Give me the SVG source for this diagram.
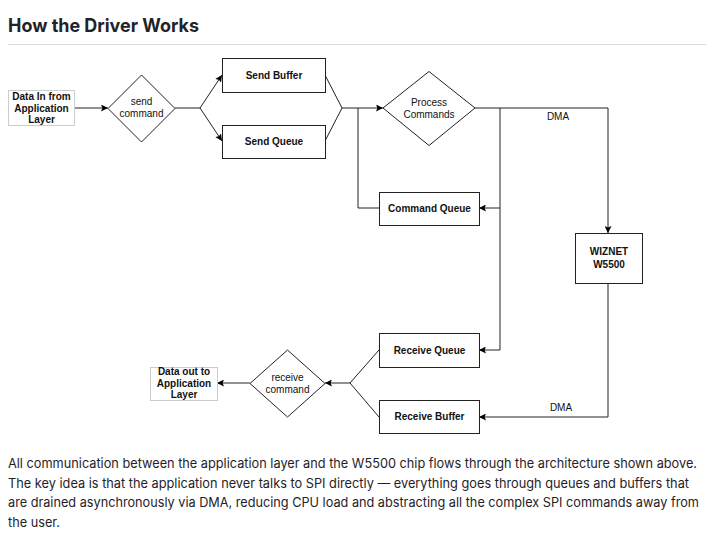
<svg xmlns="http://www.w3.org/2000/svg" width="720" height="540" viewBox="0 0 720 540">
<style>
.t{font-family:Inter,"Liberation Sans",sans-serif;fill:#1f2328}
.d{font-family:"Liberation Sans",Arial,sans-serif;font-size:10px;fill:#111;text-anchor:middle}
.b{font-weight:bold}
.box{fill:#fff;stroke:#222;stroke-width:1}
.lbox{fill:#fff;stroke:#ccc;stroke-width:1}
.ln{fill:none;stroke:#222;stroke-width:1}
.ar{fill:none;stroke:#222;stroke-width:1;marker-end:url(#ah)}
</style>
<defs>
<marker id="ah" viewBox="0 0 10 10" refX="10" refY="5" markerWidth="7" markerHeight="7" markerUnits="userSpaceOnUse" orient="auto">
<path d="M0,0 L10,5 L0,10 L2,5 Z" fill="#000"/>
</marker>
</defs>
<rect x="0" y="0" width="720" height="540" fill="#fff"/>
<text class="t b" x="8" y="32" font-size="18.5" textLength="191" lengthAdjust="spacingAndGlyphs">How the Driver Works</text>
<line x1="8" y1="44.5" x2="706" y2="44.5" stroke="#d8dee4" stroke-width="1"/>

<g id="connectors">
<path class="ar" d="M75,108 H108"/>
<path class="ln" d="M175,108 H200"/>
<path class="ar" d="M200,108 L222,75"/>
<path class="ar" d="M200,108 L222,141"/>
<path class="ln" d="M325,75 L342,108 L325,141"/>
<path class="ar" d="M342,108 H383"/>
<path class="ln" d="M379,208 H358 V108"/>
<path class="ar" d="M475,108 H608 V233"/>
<path class="ln" d="M500,108 V350"/>
<path class="ar" d="M500,208 H479"/>
<path class="ar" d="M500,350 H479"/>
<path class="ar" d="M608,283 V417 H479"/>
<path class="ln" d="M379,350 L350,383 L379,417"/>
<path class="ar" d="M350,383 H325"/>
<path class="ar" d="M250,383 H217"/>
<text class="d" x="558" y="120">DMA</text>
<text class="d" x="561" y="411">DMA</text>
</g>

<g id="data-in">
<rect class="lbox" x="8.5" y="90.5" width="66" height="35"/>
<text class="d b" x="41.5" y="100">Data In from</text>
<text class="d b" x="41.5" y="112">Application</text>
<text class="d b" x="41.5" y="123">Layer</text>
</g>
<g id="send-command">
<polygon class="box" points="141.5,75 175,108.5 141.5,142 108,108.5"/>
<text class="d" x="141.5" y="105">send</text>
<text class="d" x="141.5" y="117">command</text>
</g>
<g id="send-buffer">
<rect class="box" x="222.5" y="58.5" width="103" height="34"/>
<text class="d b" x="274" y="79">Send Buffer</text>
</g>
<g id="send-queue">
<rect class="box" x="222.5" y="125.5" width="103" height="33"/>
<text class="d b" x="274" y="145">Send Queue</text>
</g>
<g id="process-commands">
<polygon class="box" points="429,71.5 475,108 429,145.5 383,108"/>
<text class="d" x="429" y="106">Process</text>
<text class="d" x="429" y="118">Commands</text>
</g>
<g id="command-queue">
<rect class="box" x="379.5" y="192.5" width="100" height="33"/>
<text class="d b" x="429.5" y="212">Command Queue</text>
</g>
<g id="wiznet">
<rect class="box" x="575.5" y="233.5" width="67" height="50"/>
<text class="d b" x="609" y="255">WIZNET</text>
<text class="d b" x="609" y="268">W5500</text>
</g>
<g id="receive-queue">
<rect class="box" x="379.5" y="333.5" width="100" height="34"/>
<text class="d b" x="429.5" y="354">Receive Queue</text>
</g>
<g id="receive-buffer">
<rect class="box" x="379.5" y="400.5" width="100" height="33"/>
<text class="d b" x="429.5" y="420">Receive Buffer</text>
</g>
<g id="receive-command">
<polygon class="box" points="287.5,350 325,383.5 287.5,417 250,383.5"/>
<text class="d" x="287.5" y="381">receive</text>
<text class="d" x="287.5" y="393">command</text>
</g>
<g id="data-out">
<rect class="lbox" x="150.5" y="367.5" width="67" height="33"/>
<text class="d b" x="184" y="375">Data out to</text>
<text class="d b" x="184" y="387">Application</text>
<text class="d b" x="184" y="398">Layer</text>
</g>

<text class="t" x="8" y="468" font-size="13" textLength="689" lengthAdjust="spacingAndGlyphs">All communication between the application layer and the W5500 chip flows through the architecture shown above.</text>
<text class="t" x="8" y="487.5" font-size="13" textLength="681" lengthAdjust="spacingAndGlyphs">The key idea is that the application never talks to SPI directly — everything goes through queues and buffers that</text>
<text class="t" x="8" y="507" font-size="13" textLength="691" lengthAdjust="spacingAndGlyphs">are drained asynchronously via DMA, reducing CPU load and abstracting all the complex SPI commands away from</text>
<text class="t" x="8" y="526.5" font-size="13" textLength="52" lengthAdjust="spacingAndGlyphs">the user.</text>
</svg>
